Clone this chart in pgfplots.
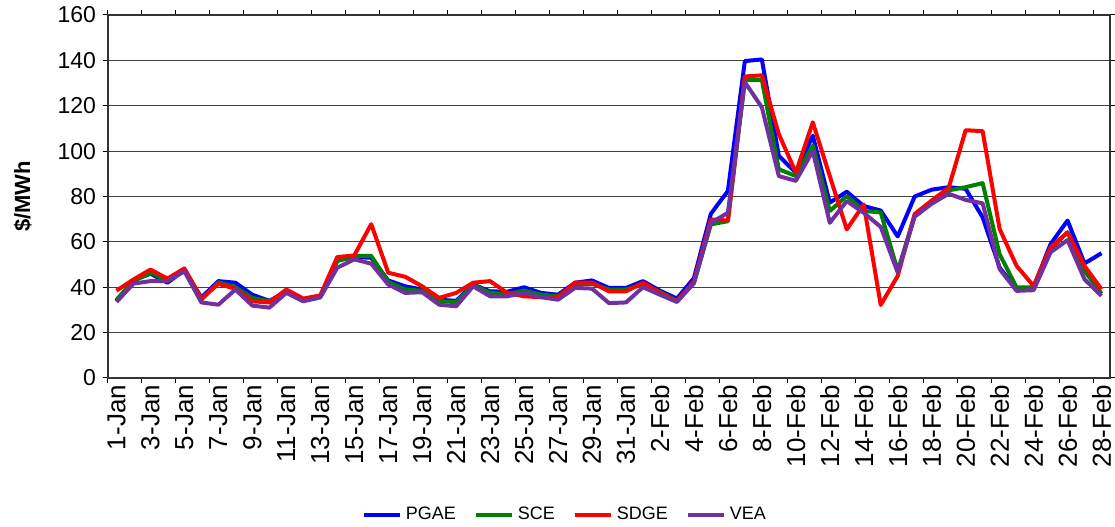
\documentclass[border=0pt]{standalone}
\usepackage{pgfplots}
\pgfplotsset{compat=1.18}
\usepackage{pgfplotstable}
\usepackage{fontspec}
\setmainfont{Liberation Sans}

% daily prices, day 1 = 1-Jan ... day 59 = 28-Feb
\pgfplotstableread{
day PGAE SCE SDGE VEA
1 34 34.5 38.5 33.5
2 43 42.7 43.4 41.6
3 46 46.4 47.8 42.7
4 42 43 43.8 42.7
5 47.5 47.5 48.3 47
6 35.5 34.5 35 33.3
7 42.7 42.2 41.5 32.3
8 42 40 39.3 39
9 36.7 35.3 33.8 31.9
10 34 33.8 33.3 31
11 38 38 39 37.5
12 34.5 34.5 35 33.8
13 36 36 36.4 35.5
14 51.8 51.5 53.3 48.6
15 53.3 53.8 54 52.3
16 53 53.8 67.8 50.4
17 43 42.4 46.4 41.2
18 40.4 39 44.6 37.5
19 39 38.5 40.4 37.8
20 34.5 33.8 35.3 32.3
21 34 33.5 37.5 31.6
22 41.2 41 42 40.4
23 38.2 37.5 42.7 36
24 38 37 37.5 36
25 40 38.5 36 37.5
26 37.5 36.7 35.6 35.6
27 36.7 36 35.6 34.5
28 42 41.2 42 39.7
29 43 41.5 42 39.4
30 39.7 39 38.2 33
31 39.7 39 38.2 33.3
32 42.7 41.2 42 40
33 38.5 38 37.5 36.7
34 35 34 33.8 33.5
35 44 41.8 42.6 41.8
36 72.4 67.7 69.9 68.4
37 82.4 69.1 69.4 72.8
38 139.7 131.4 132.9 130.4
39 140.4 131.4 133.4 119.3
40 97.9 92 107.5 89
41 90.5 89 90.5 86.9
42 106.8 102.4 112.7 100
43 77.3 73.6 89 68.4
44 82.1 80.2 65.5 78
45 75.8 73.6 76.5 72.8
46 73.8 73 32.2 66.6
47 62.4 47.2 45 46.5
48 80 71.6 72.3 71.1
49 83 77.5 78.2 76.8
50 84.1 82.7 83.8 81.2
51 83.4 84.1 109.2 78.5
52 70.8 85.9 108.8 77
53 48.7 54.6 65.7 48
54 39 39.9 49.4 38.4
55 40 40 40.6 38.7
56 59 56.8 57.6 55.4
57 69.4 64.2 64.2 60.8
58 50.5 47.2 49.4 43.5
59 55 37.2 39.1 36.2
}\prices

\definecolor{pgae}{HTML}{0000FF}
\definecolor{sce}{HTML}{008000}
\definecolor{sdge}{HTML}{FF0000}
\definecolor{vea}{HTML}{7030A0}

\begin{document}
\begin{tikzpicture}
\begin{axis}[
    scale only axis,
    width=501pt, height=181.5pt,
    xmin=0.5, xmax=59.5,
    ymin=0, ymax=160,
    ytick={0,20,...,160},
    xtick={0.5,2.5,...,58.5},
    xticklabels={},
    extra x ticks={1,3,...,59},
    extra x tick labels={1-Jan,3-Jan,5-Jan,7-Jan,9-Jan,11-Jan,13-Jan,15-Jan,17-Jan,19-Jan,21-Jan,23-Jan,25-Jan,27-Jan,29-Jan,31-Jan,2-Feb,4-Feb,6-Feb,8-Feb,10-Feb,12-Feb,14-Feb,16-Feb,18-Feb,20-Feb,22-Feb,24-Feb,26-Feb,28-Feb},
    extra x tick style={major tick length=0pt, grid=none,
        tick label style={rotate=90, anchor=east, font=\fontsize{13}{15}\selectfont}},
    tick align=outside,
    major tick length=2.5pt,
    tick style={black, line width=0.5pt},
    axis line style={black!80, line width=0.6pt},
    ymajorgrids,
    major grid style={black!75, line width=0.55pt},
    yticklabel style={font=\fontsize{11.5}{13}\selectfont},
    /pgf/number format/assume math mode=true,
    ylabel={\$/MWh},
    ylabel style={font=\bfseries\fontsize{11}{13}\selectfont,
        at={(axis description cs:-0.085,0.5)}, anchor=center},
    legend columns=4,
    legend style={draw=none, fill=none, font=\fontsize{9}{11}\selectfont,
        at={(0.457,-0.377)}, anchor=center,
        /tikz/every even column/.append style={column sep=7pt}},
    legend image code/.code={\draw[#1, line width=2pt] (0pt,0pt) -- (18pt,0pt);},
    every axis plot/.append style={line width=2pt, line join=round, mark=none},
]
\addplot[pgae] table[x=day, y=PGAE] {\prices};
\addlegendentry{PGAE}
\addplot[sce] table[x=day, y=SCE] {\prices};
\addlegendentry{SCE}
\addplot[sdge] table[x=day, y=SDGE] {\prices};
\addlegendentry{SDGE}
\addplot[vea] table[x=day, y=VEA] {\prices};
\addlegendentry{VEA}
\end{axis}
\pgfresetboundingbox
\useasboundingbox ([xshift=-54pt,yshift=-74.5pt]current axis.south west) rectangle ([xshift=2.5pt,yshift=7.5pt]current axis.north east);
\end{tikzpicture}
\end{document}
